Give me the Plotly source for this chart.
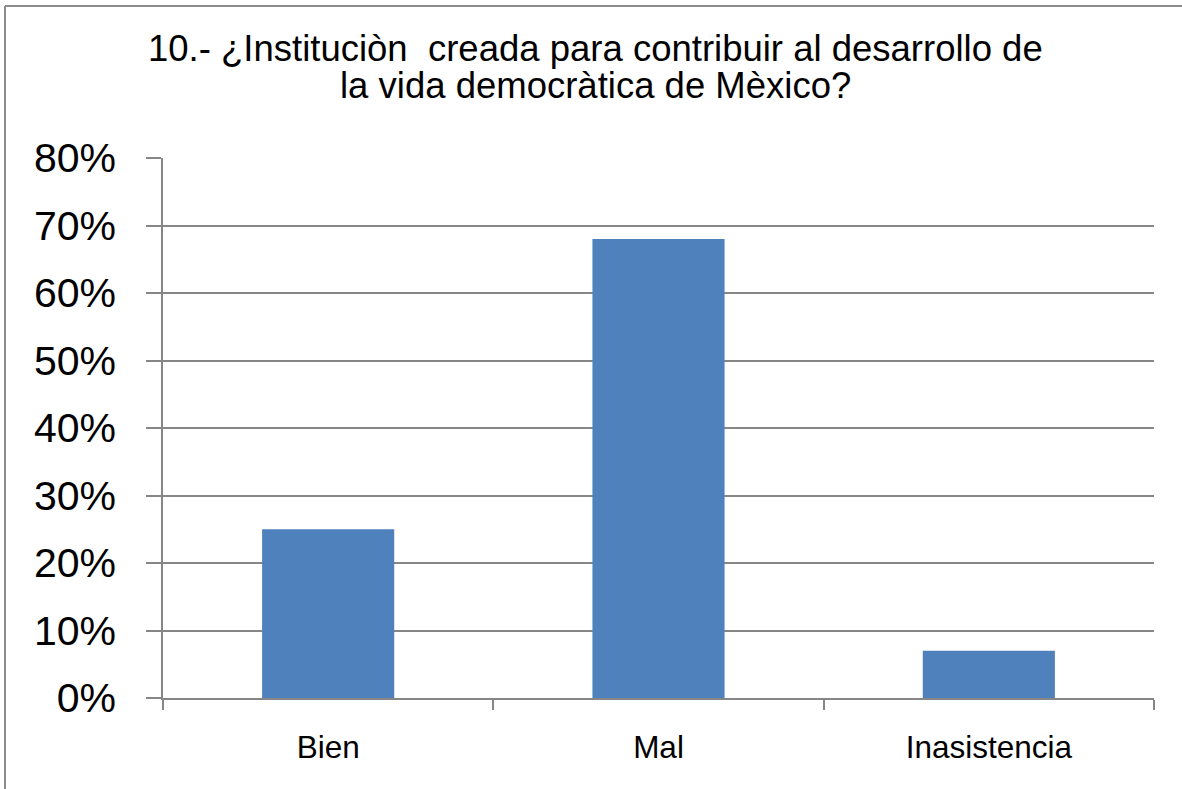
import plotly.graph_objects as go

categories = ["Bien", "Mal", "Inasistencia"]
values = [0.25, 0.68, 0.07]
title_lines = ["10.- ¿Instituciòn \u00a0creada para contribuir al desarrollo de",
               "la vida democràtica de Mèxico?"]

W, H = 1182, 789
L, R, T, B = 163, 28, 158, 91
pw, ph = W - L - R, H - T - B

fig = go.Figure(go.Bar(
    x=categories, y=values, width=0.4,
    marker=dict(color="#4F81BD", line=dict(width=0)),
))

def px(x):
    return (x - L) / pw

def py(y):
    return (H - B - y) / ph

FONT = "Liberation Sans, Arial, sans-serif"
grid = "#868686"
title_y = [49, 85]
fig.update_layout(
    width=W, height=H,
    margin=dict(l=L, r=R, t=T, b=B),
    paper_bgcolor="white", plot_bgcolor="white",
    font=dict(family=FONT, color="black"),
    showlegend=False,
    xaxis=dict(showgrid=False, showline=True, linecolor=grid, linewidth=1.5,
               ticks="outside", tickson="boundaries", ticklen=10, tickcolor=grid,
               tickwidth=1.5, tickfont=dict(size=31.5), ticklabelstandoff=20),
    yaxis=dict(range=[0, 0.8], dtick=0.1, tickformat=".0%", showgrid=True,
               gridcolor=grid, gridwidth=1.5, showline=True, linecolor=grid,
               linewidth=1.5, ticks="outside", ticklen=15, tickcolor=grid,
               tickwidth=1.5, tickfont=dict(size=41), ticklabelstandoff=22,
               zeroline=False),
    annotations=[
        dict(text=t, xref="paper", yref="paper", x=px(595), y=py(yy),
             xanchor="center", yanchor="middle", showarrow=False,
             font=dict(size=36.5, family=FONT, color="black"))
        for t, yy in zip(title_lines, title_y)
    ],
    shapes=[
        dict(type="line", xref="paper", yref="paper", x0=px(5), x1=px(W + 5),
             y0=py(6), y1=py(6), line=dict(color="#8c8c8c", width=2)),
        dict(type="line", xref="paper", yref="paper", x0=px(5), x1=px(5),
             y0=py(6), y1=py(H + 5), line=dict(color="#8c8c8c", width=2)),
    ],
)

fig.write_html("out.html", config={"displayModeBar": False},
               post_script="document.body.style.margin='0';")
